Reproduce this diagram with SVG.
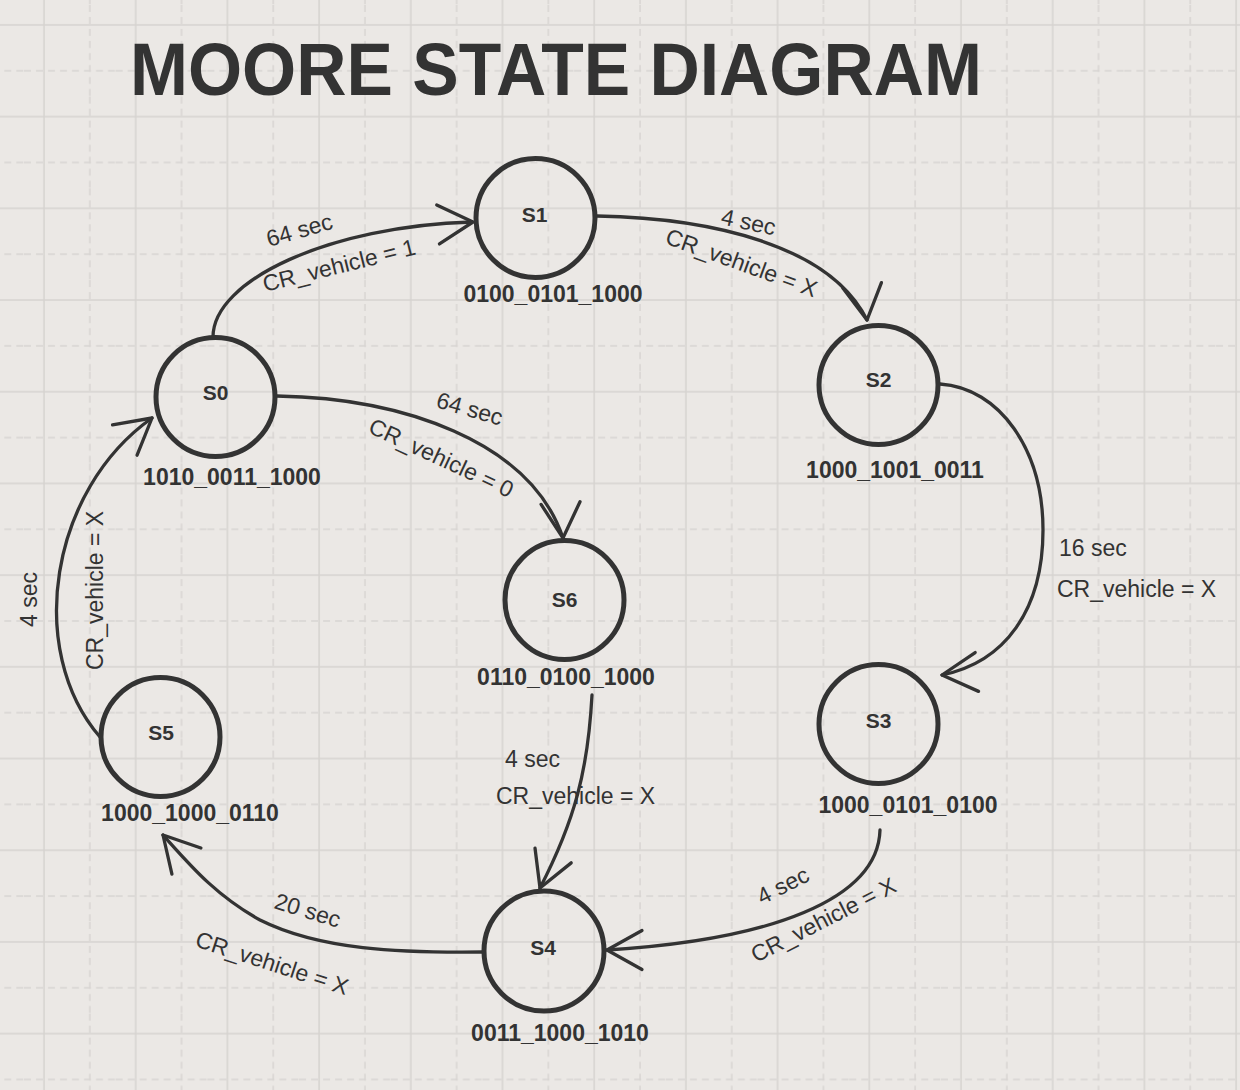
<svg xmlns="http://www.w3.org/2000/svg" xmlns:xlink="http://www.w3.org/1999/xlink" width="1240" height="1090" viewBox="0 0 1240 1090">
<style>
.bg{fill:#ebe8e5}
.gs{stroke:#d6d3d0;stroke-width:1.5;fill:none}
.gd{stroke:#d8d5d2;stroke-width:1.5;fill:none;stroke-dasharray:7 5}
.title{font-family:"Liberation Sans",Arial,sans-serif;font-weight:bold;font-size:74px;fill:#333}
.node circle{fill:none;stroke:#333;stroke-width:5}
.name{font-family:"Liberation Sans",Arial,sans-serif;font-weight:bold;font-size:21px;fill:#333;text-anchor:middle}
.val{font-family:"Liberation Sans",Arial,sans-serif;font-weight:bold;font-size:23px;fill:#333;text-anchor:middle}
.edge{fill:none;stroke:#333;stroke-width:3.3;stroke-linecap:round;stroke-linejoin:round}
.lbl{font-family:"Liberation Sans",Arial,sans-serif;font-size:23px;fill:#333}
</style>
<defs>
<pattern id="grid" patternUnits="userSpaceOnUse" x="24" y="5" width="91.7" height="91.7">
<line class="gs" x1="20" y1="0" x2="20" y2="91.7"/>
<line class="gs" x1="0" y1="20" x2="91.7" y2="20"/>
<line class="gd" x1="65.85" y1="0" x2="65.85" y2="91.7"/>
<line class="gd" x1="0" y1="65.85" x2="91.7" y2="65.85"/>
</pattern>
<path id="ah" d="M -35 -19.5 L 0 0 L -35 19.5"/>
</defs>
<rect class="bg" x="0" y="0" width="1240" height="1090"/>
<rect x="0" y="0" width="1240" height="1090" fill="url(#grid)"/>
<text class="title" x="130" y="95" textLength="852" lengthAdjust="spacingAndGlyphs">MOORE STATE DIAGRAM</text>

<g id="connectors">
<g id="e-s0-s1">
<path class="edge" d="M 213 337 C 213 280, 330 226, 472 222"/>
<use class="edge" xlink:href="#ah" href="#ah" transform="translate(473 222) rotate(-4)"/>
<text class="lbl" transform="translate(269 247) rotate(-16)">64 sec</text>
<text class="lbl" transform="translate(265 292) rotate(-14)">CR_vehicle = 1</text>
</g>
<g id="e-s1-s2">
<path class="edge" d="M 597 216 C 710 218, 830 245, 867 320"/>
<use class="edge" xlink:href="#ah" href="#ah" transform="translate(867 320) rotate(82)"/>
<text class="lbl" transform="translate(720 224) rotate(12)">4 sec</text>
<text class="lbl" transform="translate(664 243) rotate(20)">CR_vehicle = X</text>
</g>
<g id="e-s2-s3">
<path class="edge" d="M 940 384 C 1000 388, 1043 450, 1043 530 C 1043 610, 1005 662, 942 675"/>
<use class="edge" xlink:href="#ah" href="#ah" transform="translate(942 675) rotate(175)"/>
<text class="lbl" x="1059" y="556">16 sec</text>
<text class="lbl" x="1057" y="597">CR_vehicle = X</text>
</g>
<g id="e-s3-s4">
<path class="edge" d="M 880 830 C 878 900, 770 940, 607 950"/>
<use class="edge" xlink:href="#ah" href="#ah" transform="translate(607 950) rotate(180)"/>
<text class="lbl" transform="translate(762 905) rotate(-27)">4 sec</text>
<text class="lbl" transform="translate(756 963) rotate(-27)">CR_vehicle = X</text>
</g>
<g id="e-s4-s5">
<path class="edge" d="M 483 952 C 400 953, 320 950, 260 920 C 215 895, 190 865, 163 835"/>
<use class="edge" xlink:href="#ah" href="#ah" transform="translate(163 835) rotate(-132)"/>
<text class="lbl" transform="translate(273 908) rotate(17)">20 sec</text>
<text class="lbl" transform="translate(194 946) rotate(18)">CR_vehicle = X</text>
</g>
<g id="e-s5-s0">
<path class="edge" d="M 100 737 C 25 650, 50 490, 152 418"/>
<use class="edge" xlink:href="#ah" href="#ah" transform="translate(152 418) rotate(-39)"/>
<text class="lbl" transform="translate(37 627) rotate(-90)">4 sec</text>
<text class="lbl" transform="translate(103 670) rotate(-90)">CR_vehicle = X</text>
</g>
<g id="e-s0-s6">
<path class="edge" d="M 277 396 C 400 398, 530 440, 563 538"/>
<use class="edge" xlink:href="#ah" href="#ah" transform="translate(563 538) rotate(86)"/>
<text class="lbl" transform="translate(435 407) rotate(16)">64 sec</text>
<text class="lbl" transform="translate(367 432) rotate(25)">CR_vehicle = 0</text>
</g>
<g id="e-s6-s4">
<path class="edge" d="M 592 695 C 588 770, 575 820, 540 888"/>
<use class="edge" xlink:href="#ah" href="#ah" transform="translate(540 888) rotate(112)"/>
<text class="lbl" x="505" y="767">4 sec</text>
<text class="lbl" x="496" y="804">CR_vehicle = X</text>
</g>
</g>

<g id="S0" class="node">
<circle cx="215.5" cy="397" r="59.5"/>
<text class="name" x="215.5" y="400">S0</text>
<text class="val" x="232" y="485">1010_0011_1000</text>
</g>
<g id="S1" class="node">
<circle cx="535.5" cy="218" r="59.5"/>
<text class="name" x="534.5" y="222">S1</text>
<text class="val" x="553" y="302">0100_0101_1000</text>
</g>
<g id="S2" class="node">
<circle cx="878.5" cy="385" r="59.5"/>
<text class="name" x="878.5" y="387">S2</text>
<text class="val" x="895" y="478">1000_1001_0011</text>
</g>
<g id="S3" class="node">
<circle cx="878.5" cy="724" r="59.5"/>
<text class="name" x="878.5" y="728">S3</text>
<text class="val" x="908" y="813">1000_0101_0100</text>
</g>
<g id="S4" class="node">
<circle cx="544" cy="951" r="60"/>
<text class="name" x="543" y="955">S4</text>
<text class="val" x="560" y="1041">0011_1000_1010</text>
</g>
<g id="S5" class="node">
<circle cx="160.5" cy="737" r="59.5"/>
<text class="name" x="161" y="740">S5</text>
<text class="val" x="190" y="821">1000_1000_0110</text>
</g>
<g id="S6" class="node">
<circle cx="564.5" cy="600" r="59.5"/>
<text class="name" x="564.5" y="607">S6</text>
<text class="val" x="566" y="685">0110_0100_1000</text>
</g>
</svg>
